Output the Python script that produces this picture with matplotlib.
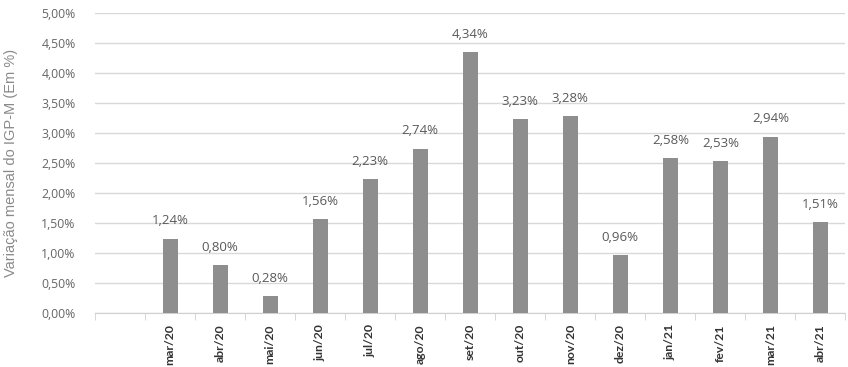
import matplotlib
matplotlib.use('agg')
import matplotlib.pyplot as plt
import numpy as np

# categorias (a primeira fica vazia, como no original)
meses = ["", "mar/20", "abr/20", "mai/20", "jun/20", "jul/20", "ago/20", "set/20",
         "out/20", "nov/20", "dez/20", "jan/21", "fev/21", "mar/21", "abr/21"]
igpm = [None, 1.24, 0.80, 0.28, 1.56, 2.23, 2.74, 4.34,
        3.23, 3.28, 0.96, 2.58, 2.53, 2.94, 1.51]

def fmt(v):
    return "{:.2f}%".format(v).replace(".", ",")

fig = plt.figure(figsize=(8.48, 3.67), dpi=100)
ax = fig.add_axes([0.112, 0.147, 0.885, 0.818])

x = np.arange(len(meses))
for i, v in enumerate(igpm):
    if v is None:
        continue
    ax.bar(x[i], v, width=0.3, color="#8e8e8e", zorder=3)
    ax.text(x[i], v + 0.19, fmt(v), ha="center", va="bottom",
            fontsize=9.5, color="#595959", family="Open Sans")

ax.set_xlim(-0.5, len(meses) - 0.5)
ax.set_ylim(0, 5)
yt = np.arange(0, 5.01, 0.5)
ax.set_yticks(yt)
ax.set_yticklabels([fmt(t) for t in yt], fontsize=8.8, color="#666666", family="Open Sans")
ax.grid(axis="y", color="#d9d9d9", linewidth=1, zorder=0)
ax.tick_params(axis="y", length=0, pad=14)

ax.set_xticks(x)
ax.set_xticklabels(meses, rotation=90, fontsize=8.8, color="#333333", family="Lato",
                   fontweight="bold")
ax.tick_params(axis="x", length=0, pad=8)
# marcas entre categorias
ax.set_xticks(np.arange(-0.5, len(meses), 1), minor=True)
ax.tick_params(axis="x", which="minor", length=5, color="#d0d0d0")

for s in ["top", "right", "left"]:
    ax.spines[s].set_visible(False)
ax.spines["bottom"].set_color("#d0d0d0")

ax.set_ylabel("Variação mensal do IGP-M (Em %)", fontsize=10.5, color="#8a8a8a",
              family="Liberation Sans")
ax.yaxis.set_label_coords(-0.103, 0.5)

fig.savefig("out.png", dpi=100)
